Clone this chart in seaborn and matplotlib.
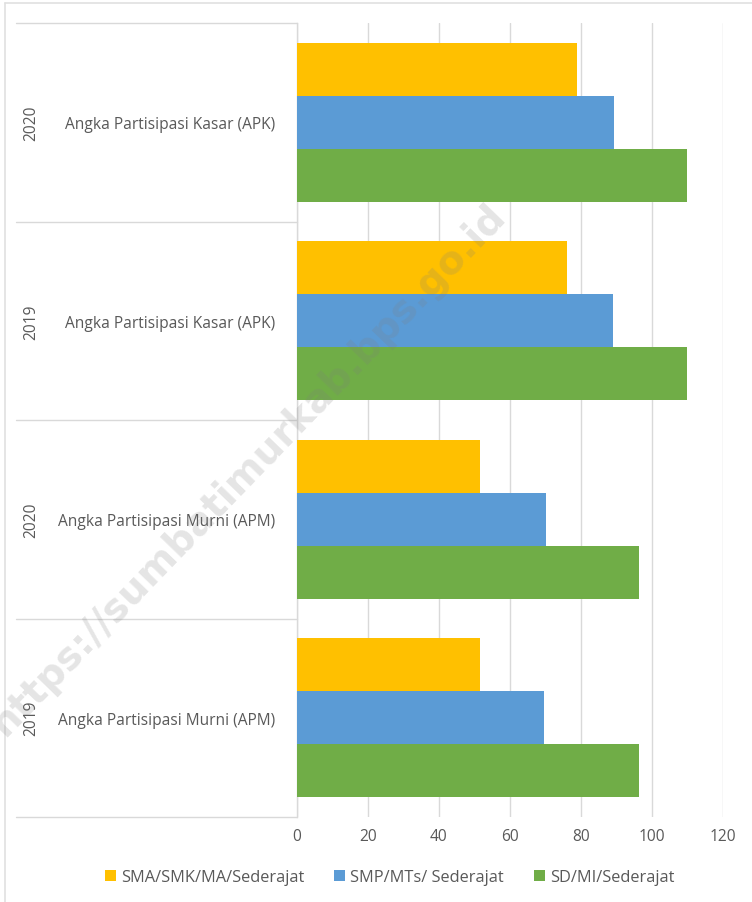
import pandas as pd
import matplotlib
matplotlib.use("Agg")
import matplotlib.pyplot as plt
import matplotlib.transforms as mtransforms
import seaborn as sns

# Data
groups = ["2020 APK", "2019 APK", "2020 APM", "2019 APM"]
years = ["2020", "2019", "2020", "2019"]
indicators = ["Angka Partisipasi Kasar (APK)", "Angka Partisipasi Kasar (APK)",
              "Angka Partisipasi Murni (APM)", "Angka Partisipasi Murni (APM)"]
levels = ["SMA/SMK/MA/Sederajat", "SMP/MTs/ Sederajat", "SD/MI/Sederajat"]
sma = [79.0, 76.1, 51.5, 51.5]
smp = [89.3, 89.1, 70.1, 69.5]
sd = [109.9, 109.8, 96.3, 96.3]
x_ticks = [0, 20, 40, 60, 80, 100, 120]

colors = ["#FFC000", "#5B9BD5", "#70AD47"]
text_grey = "#595959"
line_grey = "#D9D9D9"

rows = []
for series, vals in zip(levels, [sma, smp, sd]):
    for g, v in zip(groups, vals):
        rows.append({"group": g, "level": series, "value": v})
df = pd.DataFrame(rows)

sns.set_theme(style="white")
plt.rcParams["font.family"] = ["Open Sans", "DejaVu Sans"]

fig = plt.figure(figsize=(7.52, 9.03), dpi=100)
W, H = 752, 903
ax = fig.add_axes([297 / W, (H - 818) / H, (723 - 297) / W, (818 - 24) / H])

sns.barplot(data=df, x="value", y="group", hue="level", order=groups,
            hue_order=levels, palette=colors, orient="h", width=0.8,
            saturation=1, linewidth=0, ax=ax, zorder=3)

ax.set_xlim(0, 120)
ax.set_xticks(x_ticks)
ax.set_xticklabels([str(t) for t in x_ticks], fontsize=11.2, color=text_grey)
ax.tick_params(axis="x", length=0, pad=8)
ax.grid(axis="x", color=line_grey, linewidth=1, zorder=0)
ax.set_axisbelow(True)
ax.set_xlabel("")
ax.set_ylabel("")
for side in ["top", "right", "bottom"]:
    ax.spines[side].set_visible(False)
ax.spines["left"].set_color(line_grey)
ax.spines["left"].set_linewidth(1)

# indicator labels as tick labels, year labels rotated further left
ax.set_yticks(range(len(groups)))
ax.set_yticklabels(indicators, fontsize=11.2, color=text_grey)
ax.tick_params(axis="y", length=0, pad=16)
trans = mtransforms.blended_transform_factory(fig.transFigure, ax.transData)
for i, yr in enumerate(years):
    ax.text(31 / W, i, yr, transform=trans, rotation=90, ha="center",
            va="center", fontsize=11.2, color=text_grey)

# category separators in the label area
for b in [-0.5, 0.5, 1.5, 2.5, 3.5]:
    ax.plot([16 / W, 297 / W], [b, b], transform=trans, color=line_grey,
            linewidth=1, clip_on=False)
ax.set_ylim(len(groups) - 0.5, -0.5)

# legend at the bottom
handles, labels = ax.get_legend_handles_labels()
ax.legend_.remove()
fig.legend(handles, labels, loc="center", bbox_to_anchor=(0.518, 1 - 878 / H),
           ncol=3, frameon=False, fontsize=11.8, handlelength=0.7,
           handleheight=0.7, handletextpad=0.3, columnspacing=1.8,
           labelcolor=text_grey)

# chart border
fig.add_artist(plt.Line2D([5 / W, 5 / W], [0, 1 - 4 / H], color="#E0E0E0",
                          linewidth=1.2, transform=fig.transFigure))
fig.add_artist(plt.Line2D([5 / W, 1], [1 - 4 / H, 1 - 4 / H], color="#E0E0E0",
                          linewidth=1.2, transform=fig.transFigure))

# watermark
fig.text(248 / W, 1 - 470 / H, "https://sumbatimurkab.bps.go.id",
         rotation=46, ha="center", va="center", fontsize=28,
         fontweight="bold", color="#7f7f7f", alpha=0.2,
         family=["DejaVu Sans"], rotation_mode="anchor")

fig.savefig("out.png", dpi=100)
